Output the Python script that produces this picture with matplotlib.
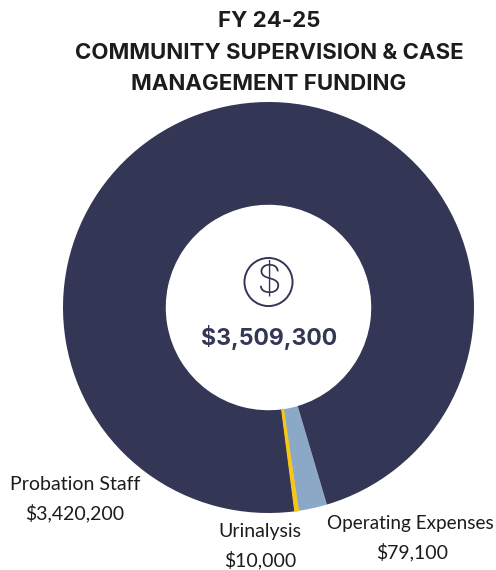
import matplotlib
matplotlib.use("Agg")
import matplotlib.pyplot as plt
from matplotlib.patches import Circle

W, H = 496, 570

# funding by line item, clockwise from the operating expenses wedge
labels = ["Operating Expenses", "Urinalysis", "Probation Staff"]
amounts = [79100, 10000, 3420200]
colors = ["#8ba9c6", "#f5c71a", "#343655"]

title_lines = ["FY 24-25", "COMMUNITY SUPERVISION & CASE", "MANAGEMENT FUNDING"]
total_text = "$3,509,300"

NAVY = "#343655"

fig = plt.figure(figsize=(W / 100, H / 100), dpi=100, facecolor="white")

# donut axes, sized in pixels
cx, cy, R = 268.5, 307.5, 205.5
ax = fig.add_axes([(cx - R) / W, 1 - (cy + R) / H, 2 * R / W, 2 * R / H])
wedges, _ = ax.pie(amounts, colors=colors, startangle=286.5, counterclock=False, radius=1,
                   wedgeprops=dict(width=0.5, linewidth=0))
# urinalysis is so thin it needs a little edge to stay visible
wedges[1].set_edgecolor(colors[1])
wedges[1].set_linewidth(0.8)
wedges[1].set_zorder(3)
ax.set_xlim(-1, 1)
ax.set_ylim(-1, 1)
ax.set_aspect("equal")
ax.axis("off")


def px_text(x, y, s, **kw):
    fig.text(x / W, 1 - y / H, s, ha="center", va="center", **kw)


# title
for y, line in zip([21, 53, 84], title_lines):
    px_text(269, y, line, family="Inter", fontweight="bold", fontsize=16, color="#1c1c1c")

# dollar icon and total in the hole
ax.add_patch(Circle((0, 0.124), 0.117, fill=False, edgecolor=NAVY, linewidth=1.4))
ax.text(0, 0.124, "$", ha="center", va="center", family="Inter", fontweight="light",
        fontsize=29, color=NAVY)
ax.text(0.003, -0.144, total_text, ha="center", va="center", family="Inter",
        fontweight="bold", fontsize=16.6, color=NAVY)

# wedge labels
label_font = dict(family="Lato", fontsize=14, color="#1c1c1c")
px_text(75, 485, labels[2], **label_font)
px_text(75, 513, "${:,}".format(amounts[2]), **label_font)
px_text(260, 532, labels[1], **label_font)
px_text(260, 560, "${:,}".format(amounts[1]), **label_font)
px_text(410, 524, labels[0], family="Lato", fontsize=13.6, color="#1c1c1c")
px_text(412, 552, "${:,}".format(amounts[0]), **label_font)

fig.savefig("out.png", dpi=100, facecolor="white")
